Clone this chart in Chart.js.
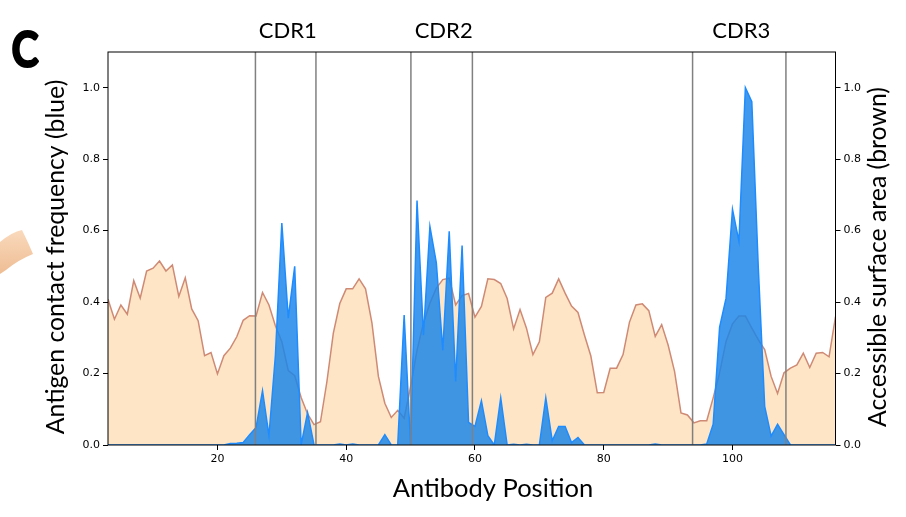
<!DOCTYPE html>
<html lang="en">
<head>
  <meta charset="UTF-8" />
  <title>Antigen contact frequency vs accessible surface area</title>
  <script src="https://cdn.jsdelivr.net/npm/chart.js"></script>
  <style>
    html, body { margin: 0; padding: 0; background: #fff; }
  </style>
</head>
<body>
  <canvas id="cdrChart" width="906" height="517"></canvas>

  <script>
    // antibody positions start at residue 3, one value per residue
    const firstPosition = 3;

    // antigen contact frequency (blue, left axis), ten residues per row
    const contactFreq = [
      0, 0, 0, 0, 0, 0, 0, 0, 0, 0,                                   // 3-12
      0, 0, 0, 0, 0, 0, 0, 0, 0, 0.004,                               // 13-22
      0.005, 0.007, 0.029, 0.049, 0.152, 0.026, 0.25, 0.621, 0.355, 0.5, // 23-32
      0, 0.091, 0, 0, 0, 0, 0.003, 0, 0.003, 0,                       // 33-42
      0, 0, 0, 0.029, 0, 0, 0.364, 0, 0.684, 0.307,                   // 43-52
      0.612, 0.51, 0.265, 0.598, 0.178, 0.558, 0.063, 0.052, 0.124, 0.026, // 53-62
      0, 0.132, 0, 0.002, 0, 0.002, 0, 0, 0.132, 0.012,               // 63-72
      0.052, 0.052, 0.007, 0.021, 0, 0, 0, 0, 0, 0,                   // 73-82
      0, 0, 0, 0, 0, 0.003, 0, 0, 0, 0,                               // 83-92
      0, 0, 0, 0.003, 0.058, 0.33, 0.411, 0.66, 0.57, 1.0,            // 93-102
      0.961, 0.5, 0.108, 0.025, 0.058, 0.029, 0, 0, 0, 0,             // 103-112
      0, 0, 0, 0                                                      // 113-116
    ];

    // accessible surface area (brown, right axis)
    const surfaceArea = [
      0.408, 0.352, 0.392, 0.366, 0.460, 0.411, 0.487, 0.495, 0.515, 0.487,
      0.504, 0.416, 0.468, 0.381, 0.348, 0.250, 0.259, 0.199, 0.250, 0.271,
      0.303, 0.349, 0.362, 0.361, 0.427, 0.392, 0.334, 0.289, 0.208, 0.194,
      0.133, 0.087, 0.057, 0.065, 0.177, 0.313, 0.396, 0.437, 0.437, 0.465,
      0.437, 0.341, 0.192, 0.117, 0.077, 0.097, 0.075, 0.163, 0.265, 0.341,
      0.397, 0.439, 0.463, 0.467, 0.392, 0.418, 0.424, 0.358, 0.388, 0.465,
      0.463, 0.452, 0.410, 0.325, 0.379, 0.327, 0.253, 0.289, 0.413, 0.425,
      0.465, 0.425, 0.389, 0.371, 0.308, 0.249, 0.146, 0.147, 0.215, 0.215,
      0.253, 0.344, 0.392, 0.395, 0.376, 0.304, 0.337, 0.280, 0.206, 0.090,
      0.084, 0.062, 0.068, 0.068, 0.132, 0.202, 0.290, 0.339, 0.361, 0.361,
      0.327, 0.295, 0.267, 0.192, 0.144, 0.202, 0.215, 0.224, 0.257, 0.217,
      0.257, 0.259, 0.247, 0.359
    ];

    const xTicks = [20, 40, 60, 80, 100];
    const yTicks = [0, 0.2, 0.4, 0.6, 0.8, 1.0];

    // CDR regions, marked with grey boundary lines
    const cdrNames = ['CDR1', 'CDR2', 'CDR3'];
    const cdrStart = [25.9, 50.05, 93.8];
    const cdrEnd = [35.3, 59.6, 108.3];

    const toPoints = vals => vals.map((v, i) => ({ x: firstPosition + i, y: v }));

    const tickFont = { family: 'DejaVu Sans', size: 11 };
    const labelFont = 'Lato, "Open Sans", sans-serif';

    const axisTicks = list => scale => { scale.ticks = list.map(v => ({ value: v })); };
    const tickGrid = { drawOnChartArea: false, drawTicks: true, tickLength: 5, color: '#000' };

    // CDR boundaries, labels, frame and axis titles
    const annotations = {
      id: 'annotations',
      afterDatasetsDraw(chart) {
        const { ctx, chartArea: a, scales } = chart;
        const x = scales.x;
        ctx.save();
        ctx.strokeStyle = '#808080';
        ctx.lineWidth = 1.5;
        cdrNames.forEach((name, i) => {
          [cdrStart[i], cdrEnd[i]].forEach(v => {
            const px = x.getPixelForValue(v);
            ctx.beginPath();
            ctx.moveTo(px, a.top);
            ctx.lineTo(px, a.bottom);
            ctx.stroke();
          });
          const mid = x.getPixelForValue((cdrStart[i] + cdrEnd[i]) / 2);
          ctx.fillStyle = '#000';
          ctx.font = '22px ' + labelFont;
          ctx.textAlign = 'center';
          ctx.textBaseline = 'middle';
          ctx.fillText(name, mid + 2, 31);
        });

        // plot frame
        ctx.strokeStyle = '#000';
        ctx.lineWidth = 1;
        ctx.strokeRect(a.left, a.top, a.right - a.left, a.bottom - a.top);
        ctx.restore();
      },
      afterDraw(chart) {
        const { ctx } = chart;
        ctx.save();
        ctx.fillStyle = '#000';
        ctx.textAlign = 'center';
        ctx.textBaseline = 'middle';
        ctx.font = '25.5px ' + labelFont;
        ctx.fillText('Antibody Position', 493, 489);

        ctx.font = '24.8px ' + labelFont;
        ctx.save();
        ctx.translate(56, 257);
        ctx.rotate(-Math.PI / 2);
        ctx.fillText('Antigen contact frequency (blue)', 0, 0);
        ctx.restore();

        ctx.save();
        ctx.translate(878, 257);
        ctx.rotate(-Math.PI / 2);
        ctx.fillText('Accessible surface area (brown)', 0, 0);
        ctx.restore();

        // panel letter, narrowed and heavy
        ctx.save();
        ctx.translate(25, 51);
        ctx.scale(0.82, 1);
        ctx.font = 'bold 50px ' + labelFont;
        ctx.strokeStyle = '#000';
        ctx.lineWidth = 2.2;
        ctx.lineJoin = 'round';
        ctx.strokeText('C', 0, 0);
        ctx.fillText('C', 0, 0);
        ctx.restore();

        // edge of the neighbouring panel's graphic
        const g = ctx.createLinearGradient(0, 226, 0, 274);
        g.addColorStop(0, '#fbdcc0');
        g.addColorStop(1, '#eebd94');
        ctx.fillStyle = g;
        ctx.beginPath();
        ctx.moveTo(0, 242);
        ctx.quadraticCurveTo(12, 232, 22, 230);
        ctx.quadraticCurveTo(28, 242, 33, 254);
        ctx.quadraticCurveTo(18, 260, 6, 270);
        ctx.lineTo(0, 274);
        ctx.closePath();
        ctx.fill();
        ctx.restore();
      }
    };

    new Chart(document.getElementById('cdrChart'), {
      type: 'line',
      data: {
        datasets: [
          {
            label: 'Antigen contact frequency',
            data: toPoints(contactFreq),
            yAxisID: 'y',
            borderColor: '#1e8cff',
            backgroundColor: 'rgba(28, 134, 232, 0.84)',
            borderWidth: 1.5,
            fill: 'origin',
            pointRadius: 0,
            tension: 0
          },
          {
            label: 'Accessible surface area',
            data: toPoints(surfaceArea),
            yAxisID: 'y2',
            borderColor: '#cf8a75',
            backgroundColor: '#fde5c5',
            borderWidth: 1.5,
            fill: 'origin',
            pointRadius: 0,
            tension: 0
          }
        ]
      },
      options: {
        responsive: false,
        animation: false,
        layout: { padding: { top: 52, left: 0, right: 0, bottom: 0 } },
        plugins: { legend: { display: false }, tooltip: { enabled: false } },
        scales: {
          x: {
            type: 'linear',
            min: 3,
            max: 116,
            afterFit: s => { s.height = 72; },
            afterBuildTicks: axisTicks(xTicks),
            grid: tickGrid,
            border: { display: false },
            ticks: { font: tickFont, color: '#000', padding: 3, maxRotation: 0, callback: v => String(v) }
          },
          y: {
            position: 'left',
            min: 0,
            max: 1.1,
            afterFit: s => { s.width = 108; },
            afterBuildTicks: axisTicks(yTicks),
            grid: tickGrid,
            border: { display: false },
            ticks: { font: tickFont, color: '#000', padding: 3, callback: v => v.toFixed(1) }
          },
          y2: {
            position: 'right',
            min: 0,
            max: 1.1,
            afterFit: s => { s.width = 70.5; },
            afterBuildTicks: axisTicks(yTicks),
            grid: tickGrid,
            border: { display: false },
            ticks: { font: tickFont, color: '#000', padding: 3, callback: v => v.toFixed(1) }
          }
        }
      },
      plugins: [annotations]
    });
  </script>
</body>
</html>
